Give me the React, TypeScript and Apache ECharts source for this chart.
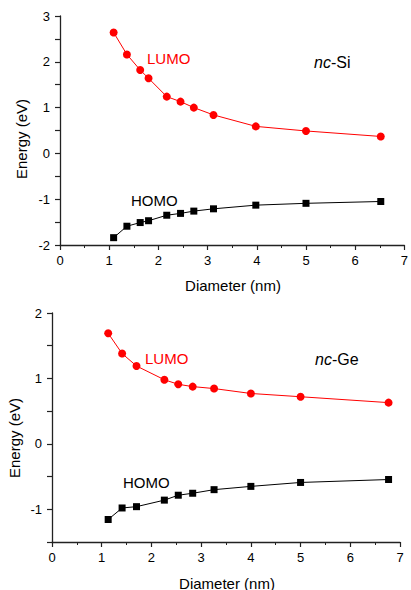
import React, { useEffect, useRef } from "react";
import * as echarts from "echarts";

const siDiameter = [1.09, 1.36, 1.63, 1.8, 2.17, 2.45, 2.72, 3.12, 3.98, 5.0, 6.52];
const siLumo = [2.64, 2.16, 1.82, 1.64, 1.24, 1.13, 1.0, 0.84, 0.59, 0.49, 0.37];
const siHomo = [-1.84, -1.59, -1.51, -1.47, -1.35, -1.31, -1.26, -1.21, -1.13, -1.09, -1.05];

const geDiameter = [1.13, 1.41, 1.7, 2.26, 2.54, 2.83, 3.26, 4.0, 5.0, 6.77];
const geLumo = [1.69, 1.38, 1.19, 0.98, 0.91, 0.875, 0.845, 0.77, 0.72, 0.63];
const geHomo = [-1.156, -0.98, -0.96, -0.86, -0.785, -0.755, -0.7, -0.65, -0.59, -0.545];

const X_TITLE = "Diameter (nm)";
const Y_TITLE = "Energy (eV)";

const FONT = "Liberation Sans, Arial, sans-serif";
const AXIS_COLOR = "#222";

function pairs(xs: number[], ys: number[]) {
  return xs.map((x, i) => [x, ys[i]]);
}

function xAxisDef(gridIndex: number) {
  return {
    type: "value",
    gridIndex,
    min: 0,
    max: 7,
    interval: 1,
    axisLine: { show: true, onZero: false, lineStyle: { color: AXIS_COLOR, width: 1.3 } },
    axisTick: { show: true, length: 5, lineStyle: { color: AXIS_COLOR, width: 1.2 } },
    minorTick: { show: true, splitNumber: 2, length: 3, lineStyle: { color: AXIS_COLOR, width: 1 } },
    axisLabel: { fontSize: 13, color: "#000", fontFamily: FONT, margin: 9 },
    splitLine: { show: false },
  };
}

function yAxisDef(gridIndex: number, min: number, max: number) {
  return {
    type: "value",
    gridIndex,
    min,
    max,
    interval: 0.5,
    axisLine: { show: true, onZero: false, lineStyle: { color: AXIS_COLOR, width: 1.3 } },
    axisTick: { show: true, length: 5, lineStyle: { color: AXIS_COLOR, width: 1.2 } },
    axisLabel: {
      fontSize: 13,
      color: "#000",
      fontFamily: FONT,
      margin: 10,
      formatter: (v: number) => (Math.abs(v % 1) < 1e-9 ? String(v) : ""),
    },
    splitLine: { show: false },
  };
}

function series(xIdx: number, data: number[][], color: string, symbol: string, size: number) {
  return {
    type: "line",
    xAxisIndex: xIdx,
    yAxisIndex: xIdx,
    data,
    symbol,
    symbolSize: size,
    showSymbol: true,
    lineStyle: { color, width: 1 },
    itemStyle: { color, borderWidth: 0 },
    emphasis: { disabled: true },
  };
}

function title(text: string, x: number, y: number, rotated: boolean) {
  return {
    type: "text",
    x,
    y,
    rotation: rotated ? Math.PI / 2 : 0,
    style: {
      text,
      fill: "#000",
      font: `15px ${FONT}`,
      textAlign: "center",
      textVerticalAlign: "middle",
    },
  };
}

function label(text: string, x: number, y: number, color: string) {
  return {
    type: "text",
    x,
    y,
    style: { text, fill: color, font: `15px ${FONT}`, textAlign: "left", textVerticalAlign: "middle" },
  };
}

function ncLabel(element: string, x: number, y: number) {
  return {
    type: "text",
    x,
    y,
    style: {
      text: `{i|nc}{n|-${element}}`,
      fill: "#000",
      textAlign: "left",
      textVerticalAlign: "middle",
      rich: {
        i: { fontStyle: "italic", fontSize: 16, fontFamily: FONT, fill: "#000" },
        n: { fontSize: 16, fontFamily: FONT, fill: "#000" },
      },
    },
  };
}

export default function App() {
  const ref = useRef<HTMLDivElement>(null);
  useEffect(() => {
    if (!ref.current) return;
    const chart = echarts.init(ref.current, undefined, { renderer: "svg" });
    chart.setOption({
      animation: false,
      backgroundColor: "#fff",
      grid: [
        { left: 60, right: 4, top: 16, bottom: 345 },
        { left: 52, right: 11, top: 313, bottom: 48 },
      ],
      xAxis: [xAxisDef(0), xAxisDef(1)],
      yAxis: [yAxisDef(0, -2, 3), yAxisDef(1, -1.5, 2)],
      series: [
        series(0, pairs(siDiameter, siLumo), "#ff0000", "circle", 8),
        series(0, pairs(siDiameter, siHomo), "#000000", "rect", 7),
        series(1, pairs(geDiameter, geLumo), "#ff0000", "circle", 8),
        series(1, pairs(geDiameter, geHomo), "#000000", "rect", 7),
      ],
      graphic: [
        title(X_TITLE, 233, 285, false),
        title(X_TITLE, 227, 583, false),
        title(Y_TITLE, 21, 139, true),
        title(Y_TITLE, 14, 438, true),
        label("LUMO", 147, 58, "#ff0000"),
        label("HOMO", 131, 200, "#000"),
        ncLabel("Si", 314, 62),
        label("LUMO", 145, 358, "#ff0000"),
        label("HOMO", 123, 482, "#000"),
        ncLabel("Ge", 315, 359),
      ],
    });
    return () => chart.dispose();
  }, []);
  return (
    <div
      ref={ref}
      style={{ position: "absolute", left: 0, top: 0, width: 411, height: 590, background: "#fff" }}
    />
  );
}
